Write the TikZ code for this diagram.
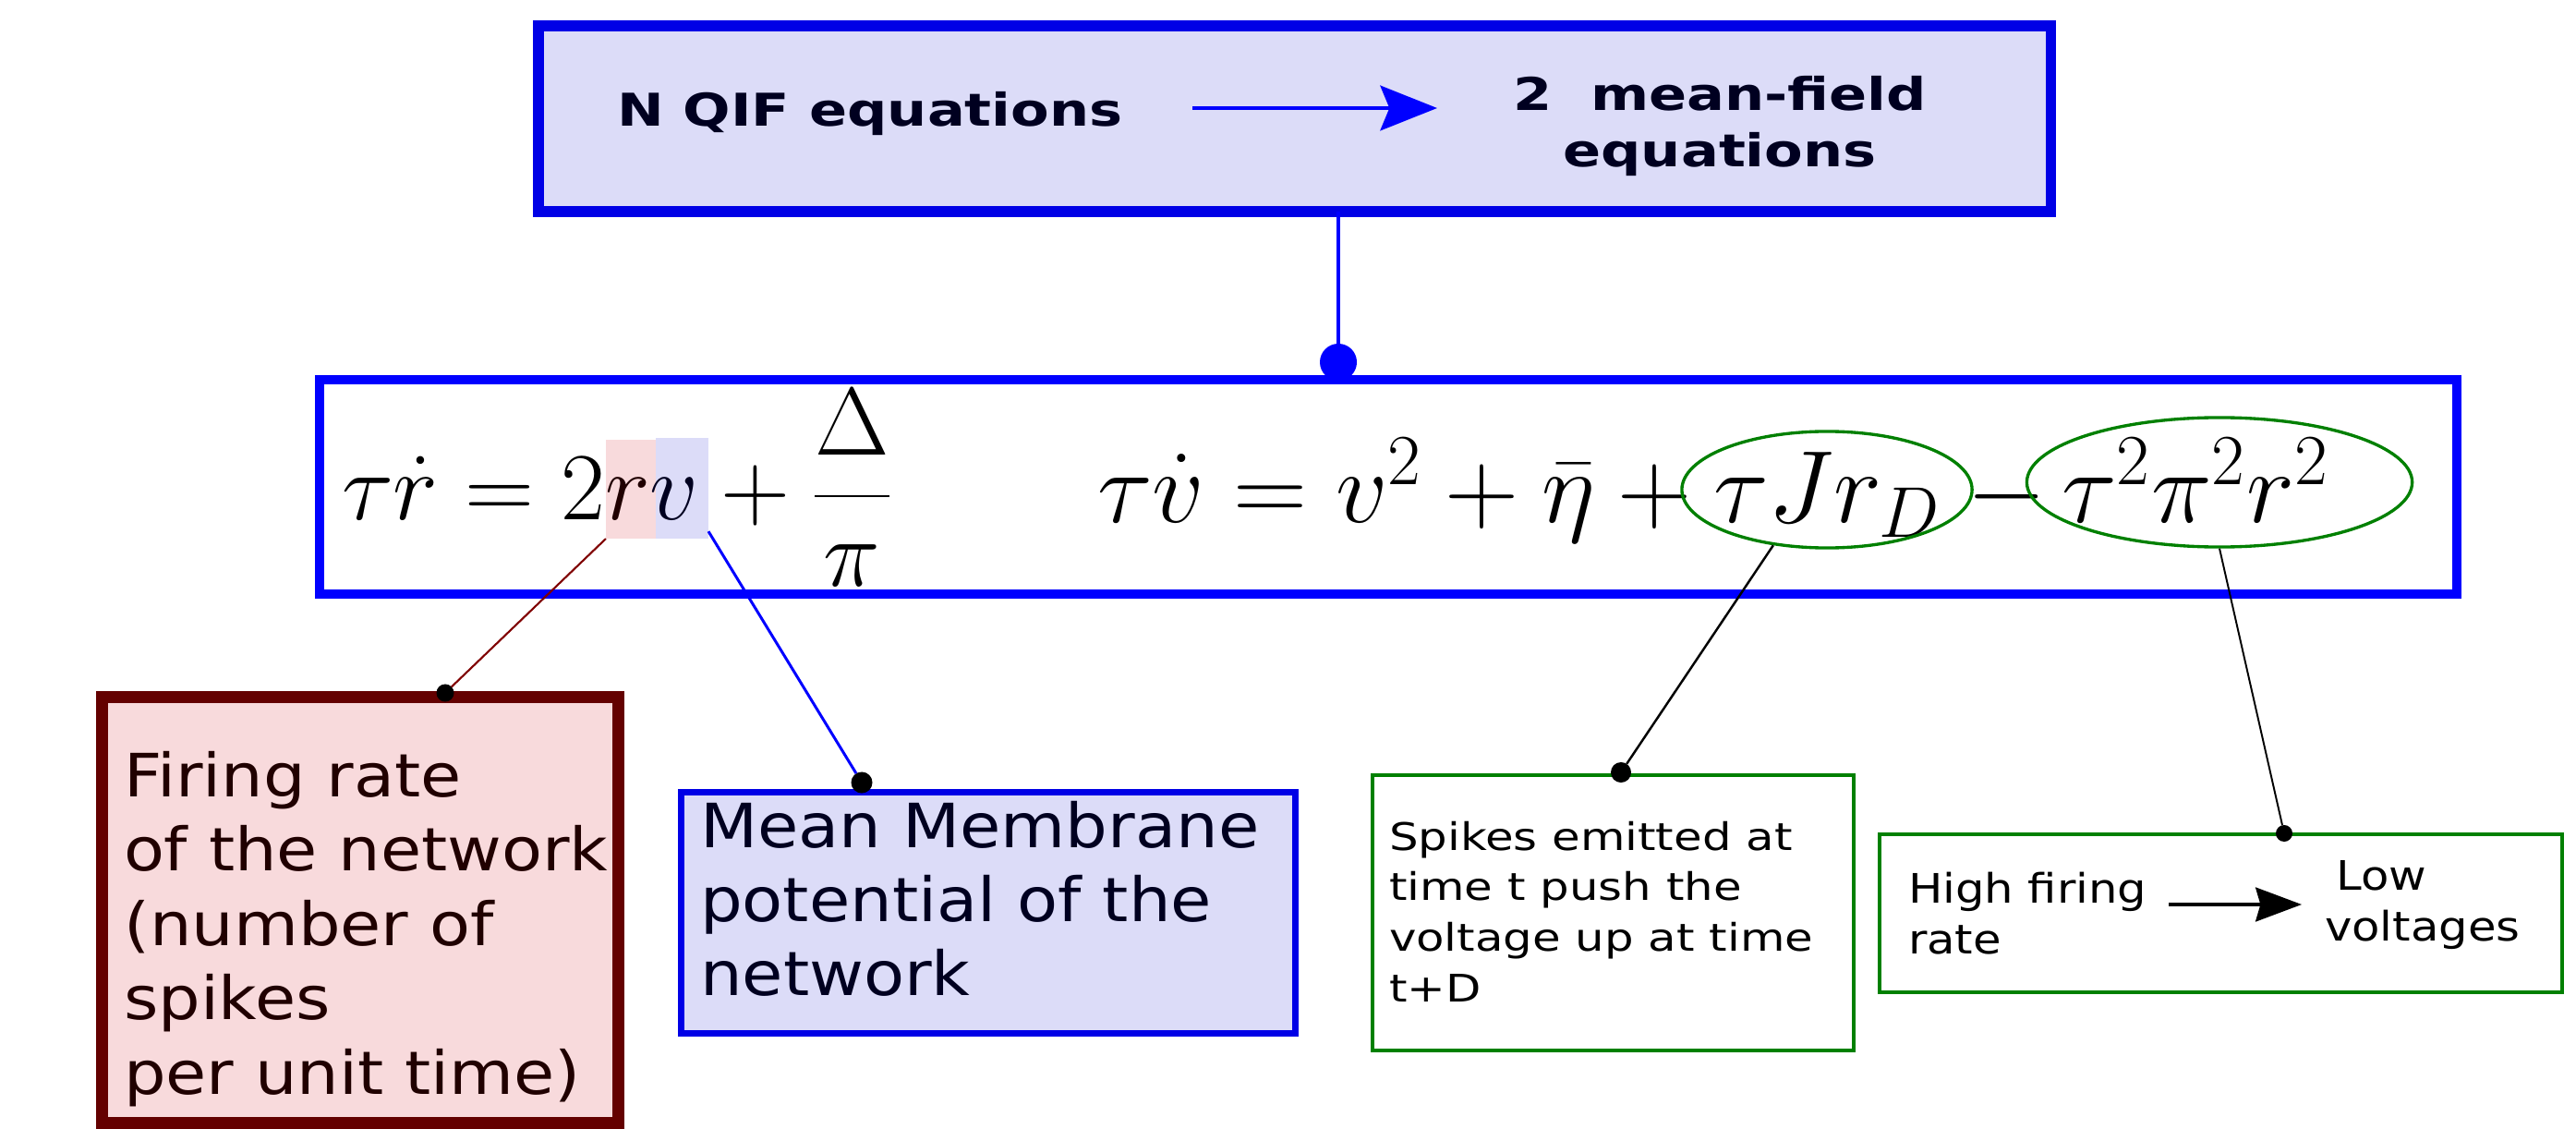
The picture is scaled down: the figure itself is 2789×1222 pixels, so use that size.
\RequirePackage{fix-cm}
\documentclass[tikz,border=0pt]{standalone}
\usepackage{fontspec}
\usepackage{graphicx}
\newfontfamily\dv{DejaVu Sans}
\usetikzlibrary{shapes.geometric,arrows.meta,calc}
\definecolor{lav}{RGB}{220,220,248}
\definecolor{pinkf}{RGB}{248,218,220}
\definecolor{dred}{RGB}{100,0,0}
\definecolor{lred}{RGB}{128,0,0}
\definecolor{gr}{RGB}{0,128,0}
\definecolor{navy}{RGB}{0,0,32}
\definecolor{maroonx}{RGB}{32,0,0}
\definecolor{bblue}{RGB}{0,0,230}
\newcommand\stxt[3]{\scalebox{#1}[1]{\begin{tabular}[t]{@{}#2@{}}#3\end{tabular}}}
\begin{document}
\begin{tikzpicture}[x=0.01cm,y=-0.01cm,
  box/.style={rectangle, inner sep=0pt, outer sep=0pt},
  txt/.style={inner sep=0pt, outer sep=0pt, anchor=base west},
  dotn/.style={circle, fill=black, inner sep=0pt, outer sep=0pt, minimum size=#1},
  mth/.style={txt, font=\fontsize{29.6}{36}\selectfont},
  mthb/.style={txt, font=\fontsize{31.6}{38}\selectfont}
]
\fill[white] (0,0) rectangle (2789,1222);
\useasboundingbox (0,0) rectangle (2789,1222);

% boxes
\node[box, draw=bblue, line width=3.4pt, fill=lav, minimum width=16.37cm, minimum height=2.01cm] (top) at (1401.5,128.5) {};
\node[box, draw=blue, line width=2.85pt, fill=white, minimum width=23.12cm, minimum height=2.32cm] (eqbox) at (1503,527) {};
\node[box, draw=dred, line width=3.7pt, fill=pinkf, minimum width=5.58cm, minimum height=4.61cm] (fire) at (390,985) {};
\node[box, draw=bblue, line width=2pt, fill=lav, minimum width=6.64cm, minimum height=2.6cm] (mean) at (1070,988) {};
\node[box, draw=gr, line width=1.1pt, fill=white, minimum width=5.21cm, minimum height=2.98cm] (spk) at (1746.5,988) {};
\node[box, draw=gr, line width=1.1pt, fill=white, minimum width=7.39cm, minimum height=1.71cm] (hfr) at (2404.5,988.5) {};

% highlights behind r and v
\node[box, fill=pinkf, minimum width=0.54cm, minimum height=1.07cm] (rr) at (683,529.5) {};
\node[box, fill=lav, minimum width=0.57cm, minimum height=1.09cm] (vv) at (738.5,528.5) {};

% equations
\node[mth] (eq1) at (370,563) {$\displaystyle\tau\dot r = 2{\color{maroonx}r}{\color{navy}v} + \frac{\Delta}{\pi}$};
\node[mthb] (eq2a) at (1188,565) {$\tau\dot v = v^2 + \bar\eta + {}$};
\node[mthb] (eq2b) at (1855,565) {$\tau J r_D$};
\node[mthb] (eq2m) at (2129,565) {$-$};
\node[mthb] (eq2c) at (2232,565) {$\tau^2\pi^2r^2$};

% ellipses
\node[ellipse, draw=gr, line width=0.95pt, inner sep=0pt, minimum width=3.14cm, minimum height=1.26cm] (e1) at (1978,530) {};
\node[ellipse, draw=gr, line width=0.95pt, inner sep=0pt, minimum width=4.17cm, minimum height=1.40cm] (e2) at (2403,522) {};

% texts
\node[txt, font=\dv\bfseries\fontsize{13.9}{17.1}\selectfont, text=navy] (nq) at (668,137) {\stxt{1.24}{l}{N QIF equations}};
\node[txt, anchor=base, font=\dv\bfseries\fontsize{13.9}{17.1}\selectfont, text=navy] (mf) at (1862,120) {\stxt{1.24}{c}{2~~mean-field\\equations}};
\node[txt, font=\dv\fontsize{18.4}{22.9}\selectfont, text=maroonx] (ftx) at (134,862) {\stxt{1.11}{l}{Firing rate\\of the network\\(number of\\spikes\\per unit time)}};
\node[txt, font=\dv\fontsize{18.8}{22.8}\selectfont, text=navy] (mtx) at (758,917) {\stxt{1.09}{l}{Mean Membrane\\potential of the\\network}};
\node[txt, font=\dv\fontsize{11.7}{15.6}\selectfont] (stx) at (1504,920) {\stxt{1.21}{l}{Spikes emitted at\\time t push the\\voltage up at time\\t+D}};
\node[txt, font=\dv\fontsize{12.5}{15.9}\selectfont] (htx) at (2066,977) {\stxt{1.13}{l}{High firing\\rate}};
\node[txt, font=\dv\fontsize{12.5}{15.9}\selectfont] (ltx) at (2517,963) {\stxt{1.13}{l}{\hspace*{0.25em}Low\\voltages}};

% arrows inside boxes
\coordinate (ta1) at (1291,117);
\coordinate (ta2) at (1556,117);
\draw[blue, line width=1.4pt, -{Stealth[length=17.5pt,width=13.8pt,inset=2.8pt]}] (ta1) -- (ta2);
\coordinate (ha1) at (2348,979);
\coordinate (ha2) at (2492,979);
\draw[black, line width=1pt, -{Stealth[length=14.2pt,width=10.5pt,inset=1.5pt]}] (ha1) -- (ha2);

% dots
\node[dotn=0.4cm, fill=blue] (dT) at (1449,392) {};
\node[dotn=0.19cm] (dF) at (482,750) {};
\node[dotn=0.23cm] (dM) at (933,847) {};
\node[dotn=0.22cm] (dS) at (1755,836) {};
\node[dotn=0.18cm] (dH) at (2473,902) {};

% connectors
\draw[blue, line width=1pt] (dT |- top.south) -- (dT);
\draw[lred, line width=0.6pt] (rr.south west) -- (dF);
\draw[blue, line width=0.85pt] (vv) -- (dM);
\draw[black, line width=0.7pt] (e1.226) -- (dS);
\draw[black, line width=0.55pt] (e2.south) -- (dH);
\end{tikzpicture}
\end{document}
